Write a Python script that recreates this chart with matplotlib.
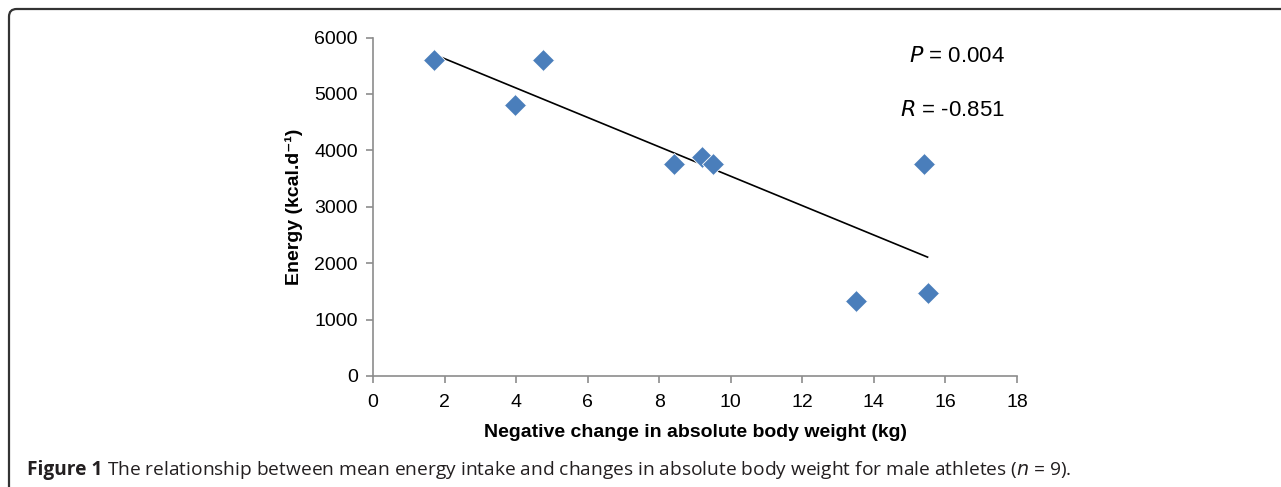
import numpy as np
import matplotlib
matplotlib.use("Agg")
import matplotlib.pyplot as plt
from matplotlib.patches import FancyBboxPatch

# Data
weight_change = [1.7, 4.75, 3.97, 8.4, 9.2, 9.5, 15.4, 13.5, 15.5]
energy = [5600, 5600, 4800, 3760, 3890, 3760, 3760, 1330, 1470]
x_ticks = [0, 2, 4, 6, 8, 10, 12, 14, 16, 18]
y_ticks = [0, 1000, 2000, 3000, 4000, 5000, 6000]
p_text = "0.004"
r_text = "-0.851"

W, H = 1281, 487
fig = plt.figure(figsize=(W / 100, H / 100), dpi=100)

ax = fig.add_axes([373 / W, 1 - 376 / H, (1017 - 373) / W, (376 - 37.5) / H])
ax.scatter(weight_change, energy, marker="D", s=125, color="#4A7EBB",
           edgecolors="white", linewidths=0.6, zorder=3, clip_on=False)

coef = np.polyfit(weight_change, energy, 1)
xs = np.array([min(weight_change), max(weight_change)])
ax.plot(xs, np.polyval(coef, xs), color="black", lw=1.2, zorder=2)

ax.set_xlim(0, 18)
ax.set_ylim(0, 6000)
ax.set_xticks(x_ticks)
ax.set_yticks(y_ticks)
font = "Liberation Sans"
fs = 14
for lab in ax.get_xticklabels() + ax.get_yticklabels():
    lab.set_family(font)
    lab.set_fontsize(fs)
for s in ["top", "right"]:
    ax.spines[s].set_visible(False)
for s in ["left", "bottom"]:
    ax.spines[s].set_color("#8c8c8c")
    ax.spines[s].set_linewidth(1.2)
ax.tick_params(axis="x", direction="out", length=5, width=1.2, color="#8c8c8c",
               pad=8, labelcolor="black")
ax.tick_params(axis="y", direction="out", length=5, width=1.2, color="#8c8c8c",
               pad=6, labelcolor="black")
ax.set_xlabel("Negative change in absolute body weight (kg)", fontsize=fs,
              fontweight="bold", family=font, labelpad=9)
ax.set_ylabel("Energy (kcal.d\u207b\u00b9)", fontsize=fs, fontweight="bold",
              family=[font, "DejaVu Sans"], labelpad=8)

fig.text(1005 / W, 1 - 57 / H, "$\\it{P}$ = " + p_text, ha="right", va="center",
         fontsize=16, family=font)
fig.text(1005 / W, 1 - 110 / H, "$\\it{R}$ = " + r_text, ha="right", va="center",
         fontsize=16, family=font)

# Caption
cap_font = "Open Sans"
cfs = 13.8
t1 = fig.text(27 / W, 1 - 470 / H, "Figure 1", ha="left", va="center",
              fontsize=cfs, fontweight="bold", family=cap_font, color="#231f20")
fig.canvas.draw()
bb = t1.get_window_extent()
fig.text(bb.x1 / W + 5 / W, 1 - 470 / H,
         "The relationship between mean energy intake and changes in absolute body weight for male athletes ($\\it{n}$ = 9).",
         ha="left", va="center", fontsize=cfs, family=cap_font, color="#231f20")

# Figure frame (rounded corner at top-left)
frame = FancyBboxPatch((9 / W, -0.2), 1.2, 1.2 - 9 / H,
                       boxstyle="round,pad=0,rounding_size=0.006",
                       transform=fig.transFigure, fill=False,
                       edgecolor="#333333", lw=1.6, mutation_aspect=W / H)
fig.patches.append(frame)

fig.savefig("out.png", dpi=100)
